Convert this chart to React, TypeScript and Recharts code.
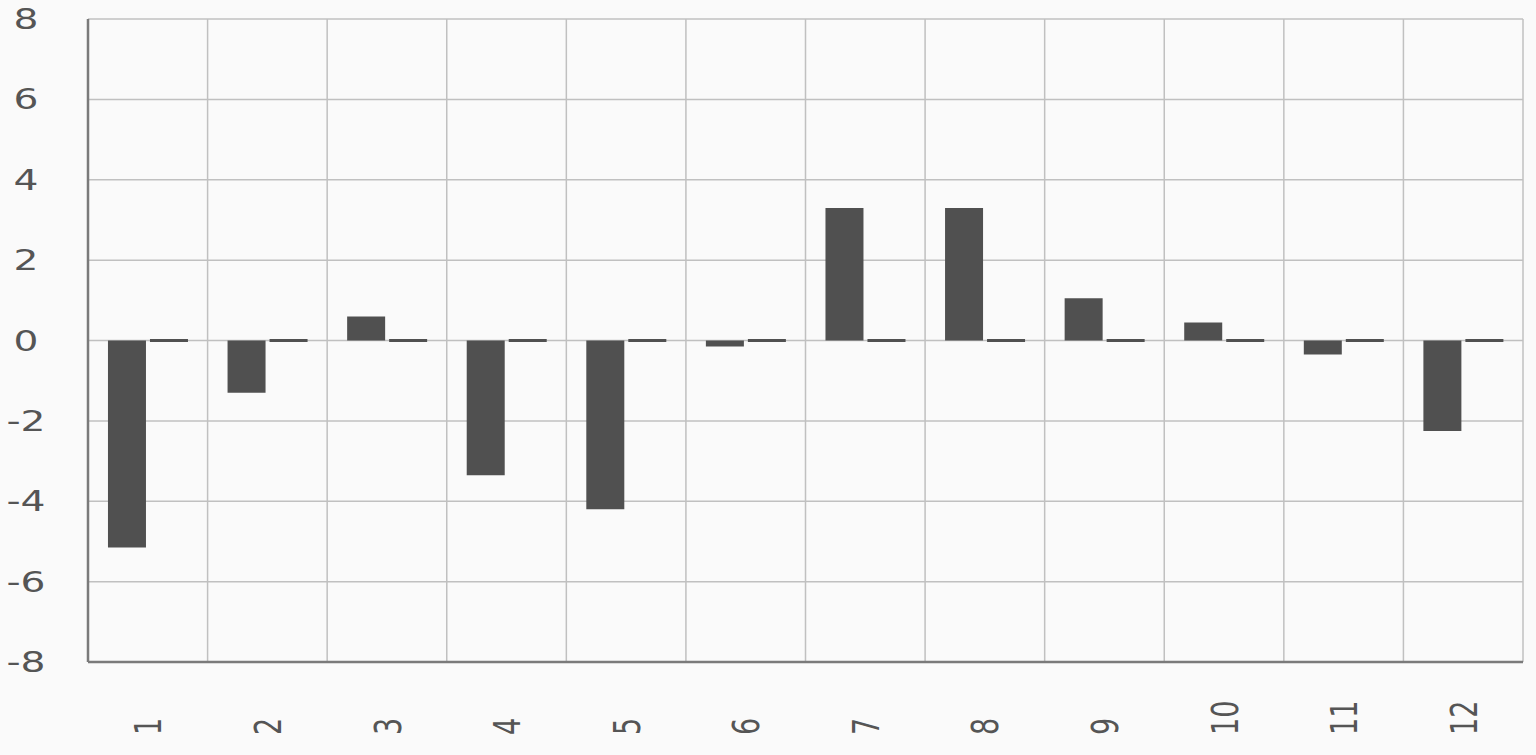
import React from 'react'
import { BarChart, Bar, XAxis, YAxis, CartesianGrid } from 'recharts'

const months = ['1', '2', '3', '4', '5', '6', '7', '8', '9', '10', '11', '12']
const mainValues = [-5.15, -1.3, 0.6, -3.35, -4.2, -0.15, 3.3, 3.3, 1.05, 0.45, -0.35, -2.25]
const otherValues = [0, 0, 0, 0, 0, 0, 0, 0, 0, 0, 0, 0]
const yTicks = [-8, -6, -4, -2, 0, 2, 4, 6, 8]

const data = months.map((m, i) => ({
  month: m,
  main: mainValues[i],
  other: otherValues[i],
}))

const FONT = '"DejaVu Sans", sans-serif'
const LABEL = '#555555'
const BAR = '#505050'
const STRETCH = 1.4

function XTick({ x, payload }: any) {
  const y = 735
  return (
    <g transform={`translate(${x}, 0) scale(${STRETCH}, 1) translate(${-x}, 0)`}>
      <text
        x={x}
        y={y}
        dy="0.36em"
        transform={`rotate(-90, ${x}, ${y})`}
        textAnchor="start"
        fontFamily={FONT}
        fontSize={27}
        fill={LABEL}
      >
        {payload.value}
      </text>
    </g>
  )
}

function YTick({ y, payload }: any) {
  const cx = 26
  return (
    <g transform={`translate(${cx}, 0) scale(${STRETCH}, 1) translate(${-cx}, 0)`}>
      <text
        x={cx}
        y={y}
        dy="0.36em"
        textAnchor="middle"
        fontFamily={FONT}
        fontSize={28}
        fill={LABEL}
      >
        {payload.value}
      </text>
    </g>
  )
}

// the all-zero series still shows as a short flat line on the zero line
function FlatBar({ x, y, width, height }: any) {
  const h = Math.abs(height || 0)
  if (h < 3) return <rect x={x} y={y - 1.5} width={width} height={3} fill={BAR} />
  return <rect x={x} y={Math.min(y, y + height)} width={width} height={h} fill={BAR} />
}

// vertical grid lines sit on the category borders (band scale has no padding)
function bandEdges({ offset }: any) {
  const step = offset.width / months.length
  return [...months.map((_, i) => offset.left + i * step), offset.left + offset.width]
}

export default function App() {
  return (
    <div style={{ position: 'absolute', left: 0, top: 0, width: 1536, height: 755, background: '#fafafa' }}>
      <BarChart
        width={1536}
        height={755}
        data={data}
        margin={{ top: 19, right: 13, left: 0, bottom: 0 }}
        barCategoryGap="16.7%"
        barGap={4}
      >
        <CartesianGrid
          stroke="#c0c0c0"
          strokeWidth={1.5}
          verticalCoordinatesGenerator={bandEdges}
        />
        <XAxis
          dataKey="month"
          height={93}
          tick={<XTick />}
          tickLine={false}
          axisLine={{ stroke: '#7a7a7a', strokeWidth: 2.5 }}
          interval={0}
        />
        <YAxis
          width={88}
          domain={[-8, 8]}
          ticks={yTicks}
          tick={<YTick />}
          tickLine={false}
          axisLine={{ stroke: '#7a7a7a', strokeWidth: 2.5 }}
          interval={0}
        />
        <Bar dataKey="main" fill={BAR} isAnimationActive={false} />
        <Bar dataKey="other" fill={BAR} shape={<FlatBar />} isAnimationActive={false} />
      </BarChart>
    </div>
  )
}
